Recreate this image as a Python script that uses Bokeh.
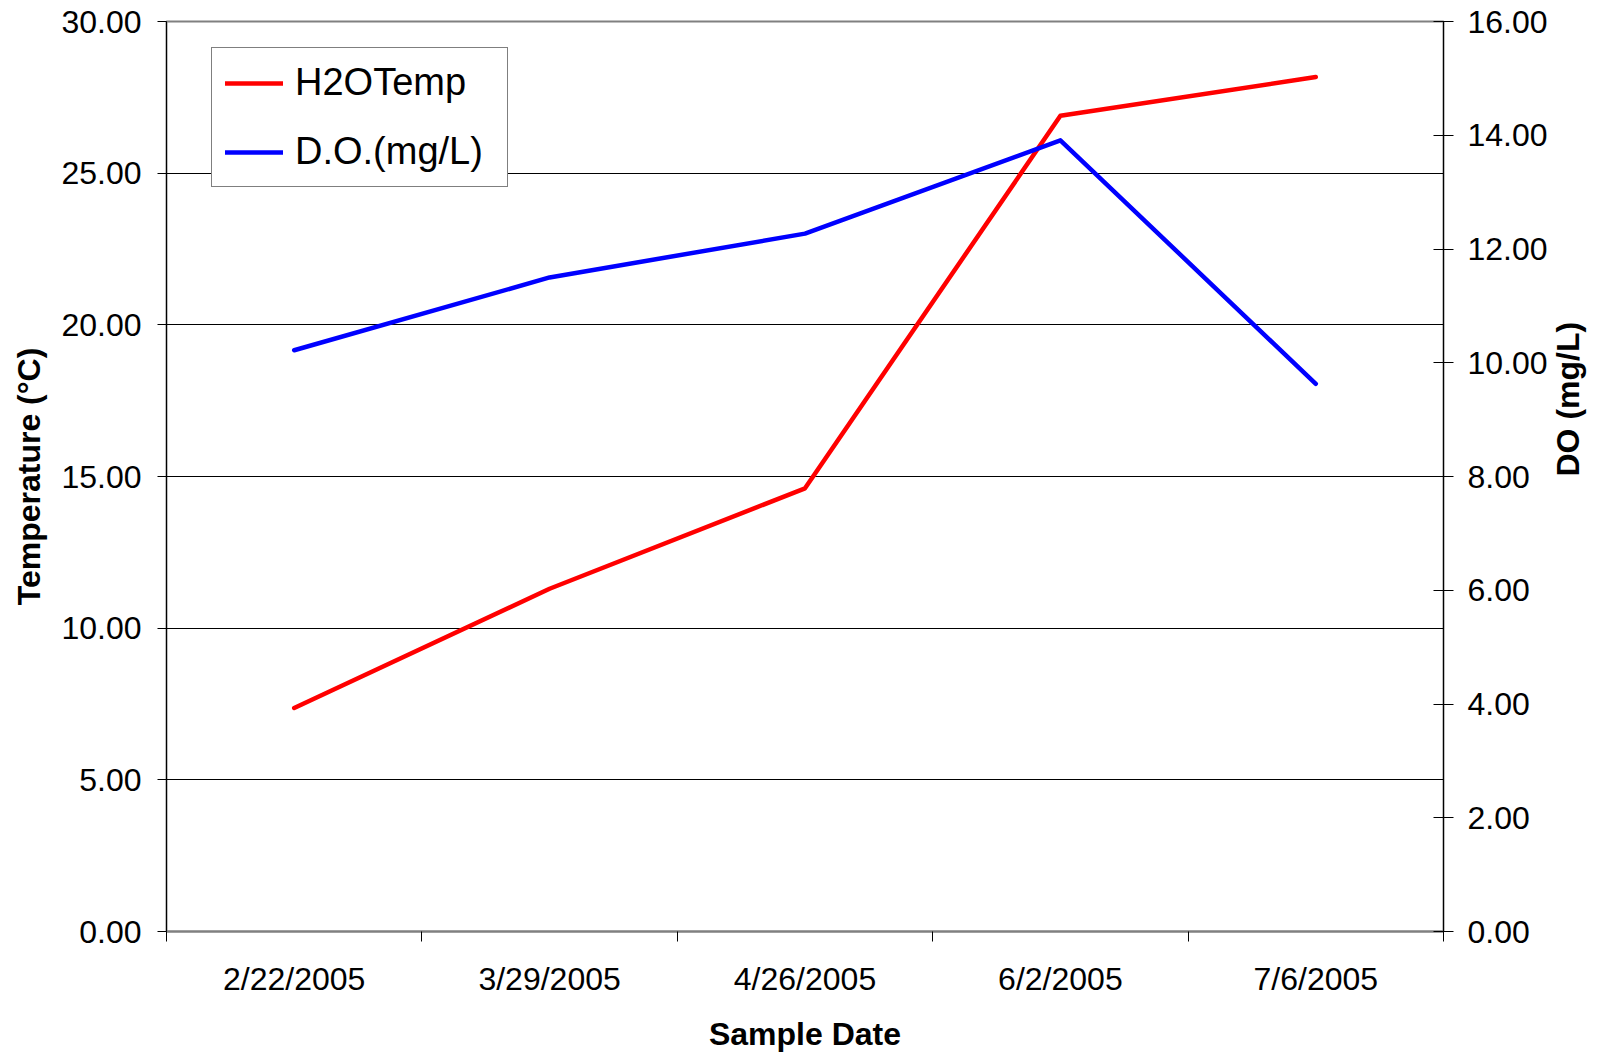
import math
from bokeh.plotting import figure
from bokeh.models import (Range1d, LinearAxis, FixedTicker, NumeralTickFormatter,
                          Legend, LegendItem)
from bokeh.embed import file_html
from bokeh.resources import INLINE

# ---- data ----
dates = ["2/22/2005", "3/29/2005", "4/26/2005", "6/2/2005", "7/6/2005"]
h2o_temp = [7.37, 11.30, 14.61, 26.89, 28.17]
do_mgl = [10.22, 11.50, 12.27, 13.91, 9.63]
temp_ticks = [0, 5, 10, 15, 20, 25, 30]
do_ticks = [0, 2, 4, 6, 8, 10, 12, 14, 16]

FONT = "Liberation Sans"
TICK_FS = "32px"
TITLE_FS = "32px"

x_pos = [i + 0.5 for i in range(len(dates))]
bounds = [float(i) for i in range(len(dates) + 1)]

p = figure(width=1606, height=1054, output_backend="svg", toolbar_location=None,
           x_range=Range1d(0, len(dates)), y_range=Range1d(0, 30),
           min_border_left=166, min_border_right=163, min_border_top=21,
           min_border_bottom=122, background_fill_color="white",
           border_fill_color="white")
p.extra_y_ranges = {"do": Range1d(0, 16)}

p.outline_line_color = "#808080"
p.outline_line_width = 2

# grid
p.xgrid.visible = False
p.ygrid.ticker = FixedTicker(ticks=temp_ticks)
p.ygrid.grid_line_color = "black"
p.ygrid.grid_line_width = 1

# x axis
xa = p.xaxis[0]
xa.ticker = FixedTicker(ticks=x_pos, minor_ticks=bounds)
xa.major_label_overrides = {x: d for x, d in zip(x_pos, dates)}
xa.major_tick_out = 0
xa.major_tick_in = 0
xa.minor_tick_out = 10
xa.minor_tick_in = 0
xa.minor_tick_line_color = "black"
xa.axis_line_color = "#808080"
xa.axis_line_width = 2
xa.major_label_standoff = 19
xa.major_label_text_font = FONT
xa.major_label_text_font_size = TICK_FS
xa.major_label_text_color = "black"
xa.axis_label = "Sample Date"
xa.axis_label_text_font = FONT
xa.axis_label_text_font_style = "bold"
xa.axis_label_text_font_size = TITLE_FS
xa.axis_label_text_color = "black"
xa.axis_label_standoff = 16

# left axis
ya = p.yaxis[0]
ya.ticker = FixedTicker(ticks=temp_ticks)
ya.formatter = NumeralTickFormatter(format="0.00")
ya.minor_tick_line_color = None
ya.major_tick_out = 9
ya.major_tick_in = 0
ya.axis_line_color = "black"
ya.major_label_standoff = 16
ya.major_label_text_font = FONT
ya.major_label_text_font_size = TICK_FS
ya.major_label_text_color = "black"
ya.axis_label = "Temperature (°C)"
ya.axis_label_text_font = FONT
ya.axis_label_text_font_style = "bold"
ya.axis_label_text_font_size = TITLE_FS
ya.axis_label_text_color = "black"
ya.axis_label_standoff = 11

# right axis
ra = LinearAxis(y_range_name="do", ticker=FixedTicker(ticks=do_ticks),
                formatter=NumeralTickFormatter(format="0.00"))
ra.minor_tick_line_color = None
ra.major_tick_out = 10
ra.major_tick_in = 10
ra.axis_line_color = "black"
ra.major_label_standoff = 14
ra.major_label_text_font = FONT
ra.major_label_text_font_size = TICK_FS
ra.major_label_text_color = "black"
ra.axis_label = "DO (mg/L)"
ra.axis_label_text_font = FONT
ra.axis_label_text_font_style = "bold"
ra.axis_label_text_font_size = TITLE_FS
ra.axis_label_text_color = "black"
ra.axis_label_standoff = 17
ra.axis_label_orientation = math.pi / 2
p.add_layout(ra, "right")

# lines
r_temp = p.line(x_pos, h2o_temp, line_color="#FF0000", line_width=4.5,
                line_cap="round", line_join="round")
r_do = p.line(x_pos, do_mgl, line_color="#0000FF", line_width=4.5,
              line_cap="round", line_join="round", y_range_name="do")

legend = Legend(items=[LegendItem(label="H2OTemp", renderers=[r_temp]),
                       LegendItem(label="D.O.(mg/L)", renderers=[r_do])],
                location=(45, 744))
legend.border_line_color = "black"
legend.border_line_width = 1
legend.background_fill_color = "white"
legend.background_fill_alpha = 1
legend.padding = 13
legend.spacing = 26
legend.glyph_width = 58
legend.label_standoff = 12
legend.label_width = 199
legend.label_text_font = FONT
legend.label_text_font_size = "38px"
legend.label_text_color = "black"
p.add_layout(legend, "center")

open("out.html", "w").write(file_html(p, INLINE))
